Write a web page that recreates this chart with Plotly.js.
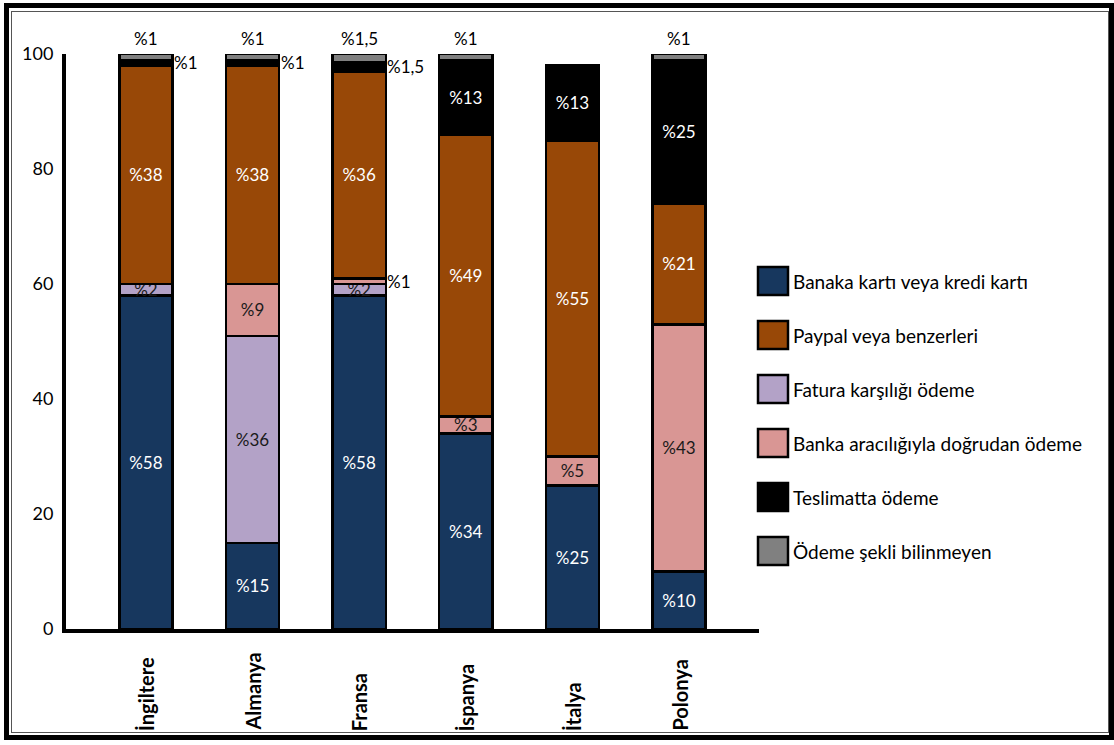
<!DOCTYPE html>
<html>
<head>
<meta charset="utf-8">
<script src="https://cdn.plot.ly/plotly-3.0.1.min.js"></script>
<style>
  html, body { margin: 0; padding: 0; background: #fff; }
  #chart { position: absolute; left: 0; top: 0; width: 1114px; height: 745px; }
  .frame { position: absolute; pointer-events: none; background: transparent; box-sizing: border-box; }
  #outer { left: 4px; top: 3px; width: 1110px; height: 737px; border: 5px solid #000; }
  #inner { left: 11px; top: 11px; width: 1098px; height: 722px; border: 1.5px solid #555; }
</style>
</head>
<body>
<div id="chart"></div>
<div id="outer" class="frame"></div>
<div id="inner" class="frame"></div>
<script>
// Countries on the x axis
const countries = ['İngiltere', 'Almanya', 'Fransa', 'İspanya', 'İtalya', 'Polonya'];

// Share of each payment method (%), bottom to top of each stack
const bankaKarti      = [58, 15, 58, 34, 25, 10];
const faturaKarsiligi = [2, 36, 2, null, null, null];
const bankaAraciligi  = [null, 9, 1, 3, 5, 43];
const paypal          = [38, 38, 36, 49, 55, 21];
const teslimatta      = [1, 1, 1.5, 13, 13, 25];
const bilinmeyen      = [1, 1, 1.5, 1, null, 1];

const seriesNames = [
  'Banaka kartı veya kredi kartı',
  'Fatura karşılığı ödeme',
  'Banka aracılığıyla doğrudan ödeme',
  'Paypal veya benzerleri',
  'Teslimatta ödeme',
  'Ödeme şekli bilinmeyen'
];
const seriesValues = [bankaKarti, faturaKarsiligi, bankaAraciligi, paypal, teslimatta, bilinmeyen];
const seriesColors = ['#17375E', '#B3A2C7', '#D99694', '#984807', '#000000', '#808080'];
const seriesTextColors = ['#ffffff', '#1a1a1a', '#1a1a1a', '#ffffff', '#ffffff', '#ffffff'];
// Order of entries in the legend (indices into the series above)
const legendOrder = [0, 3, 1, 2, 4, 5];

const FONT = 'Lato, "Open Sans", sans-serif';
const fmt = v => '%' + String(v).replace('.', ',');

// Plot area in pixels (for paper-coordinate helpers)
const M = { l: 66, r: 355, t: 54, b: 116 };
const W = 1114, H = 745;
const PW = W - M.l - M.r, PH = H - M.t - M.b;
const px2x = x => (x - M.l) / PW;
const px2y = y => (H - M.b - y) / PH;

const traces = seriesValues.map((vals, i) => ({
  type: 'bar',
  name: seriesNames[i],
  x: countries,
  y: vals,
  marker: { color: seriesColors[i], line: { color: '#000', width: 2.5 } },
  text: vals.map(v => (v != null && v >= 2 && i !== 5) ? fmt(v) : ''),
  textposition: 'inside',
  insidetextanchor: 'middle',
  textangle: 0,
  constraintext: 'none',
  textfont: { family: FONT, size: 17, color: seriesTextColors[i] },
  hoverinfo: 'skip',
  showlegend: false
}));

const annotations = [];
const shapes = [];

// Small segments get their labels outside the bar
countries.forEach((c, ci) => {
  let base = 0;
  seriesValues.forEach((vals, si) => {
    const v = vals[ci];
    if (v == null) return;
    if (si === 5) {
      annotations.push({
        x: c, xref: 'x', y: base + v, yref: 'y',
        yanchor: 'bottom', xanchor: 'center', yshift: 3,
        text: fmt(v), showarrow: false,
        font: { family: FONT, size: 17, color: '#000' }
      });
    } else if (v < 2) {
      annotations.push({
        x: c, xref: 'x', y: base + v / 2, yref: 'y',
        xanchor: 'left', yanchor: 'middle', xshift: 26,
        text: fmt(v), showarrow: false,
        font: { family: FONT, size: 17, color: '#000' }
      });
    }
    base += v;
  });
});

// Rotated category labels, aligned at their start below the axis
countries.forEach(c => {
  annotations.push({
    x: c, xref: 'x', y: px2y(733), yref: 'paper',
    xanchor: 'center', yanchor: 'bottom',
    textangle: -90, text: '<b>' + c + '</b>', showarrow: false,
    font: { family: FONT, size: 20, color: '#000' }
  });
});

// Legend with large swatches
legendOrder.forEach((si, k) => {
  const cy = 281 + k * 54;
  shapes.push({
    type: 'rect', xref: 'paper', yref: 'paper',
    x0: px2x(758), x1: px2x(788), y0: px2y(cy + 14), y1: px2y(cy - 14),
    fillcolor: seriesColors[si], line: { color: '#000', width: 2.5 }
  });
  annotations.push({
    x: px2x(791), xref: 'paper', y: px2y(cy), yref: 'paper',
    xanchor: 'left', yanchor: 'middle',
    text: seriesNames[si], showarrow: false,
    font: { family: FONT, size: 19, color: '#000' }
  });
});

const layout = {
  width: W, height: H,
  margin: { l: M.l, r: M.r, t: M.t, b: M.b, pad: 0 },
  paper_bgcolor: '#fff', plot_bgcolor: '#fff',
  barmode: 'stack',
  bargap: 0.5,
  showlegend: false,
  font: { family: FONT, color: '#000' },
  xaxis: {
    type: 'category', range: [-0.75, 5.75],
    showticklabels: false, ticks: '',
    showline: true, linecolor: '#000', linewidth: 4,
    showgrid: false, zeroline: false, fixedrange: true
  },
  yaxis: {
    range: [0, 100], tickvals: [0, 20, 40, 60, 80, 100],
    ticks: 'outside', ticklen: 5, tickcolor: 'rgba(0,0,0,0)',
    tickfont: { family: FONT, size: 18, color: '#000' },
    showline: true, linecolor: '#000', linewidth: 4,
    showgrid: false, zeroline: false, fixedrange: true
  },
  annotations: annotations,
  shapes: shapes
};

Plotly.newPlot('chart', traces, layout, { staticPlot: true, displayModeBar: false });
</script>
</body>
</html>
